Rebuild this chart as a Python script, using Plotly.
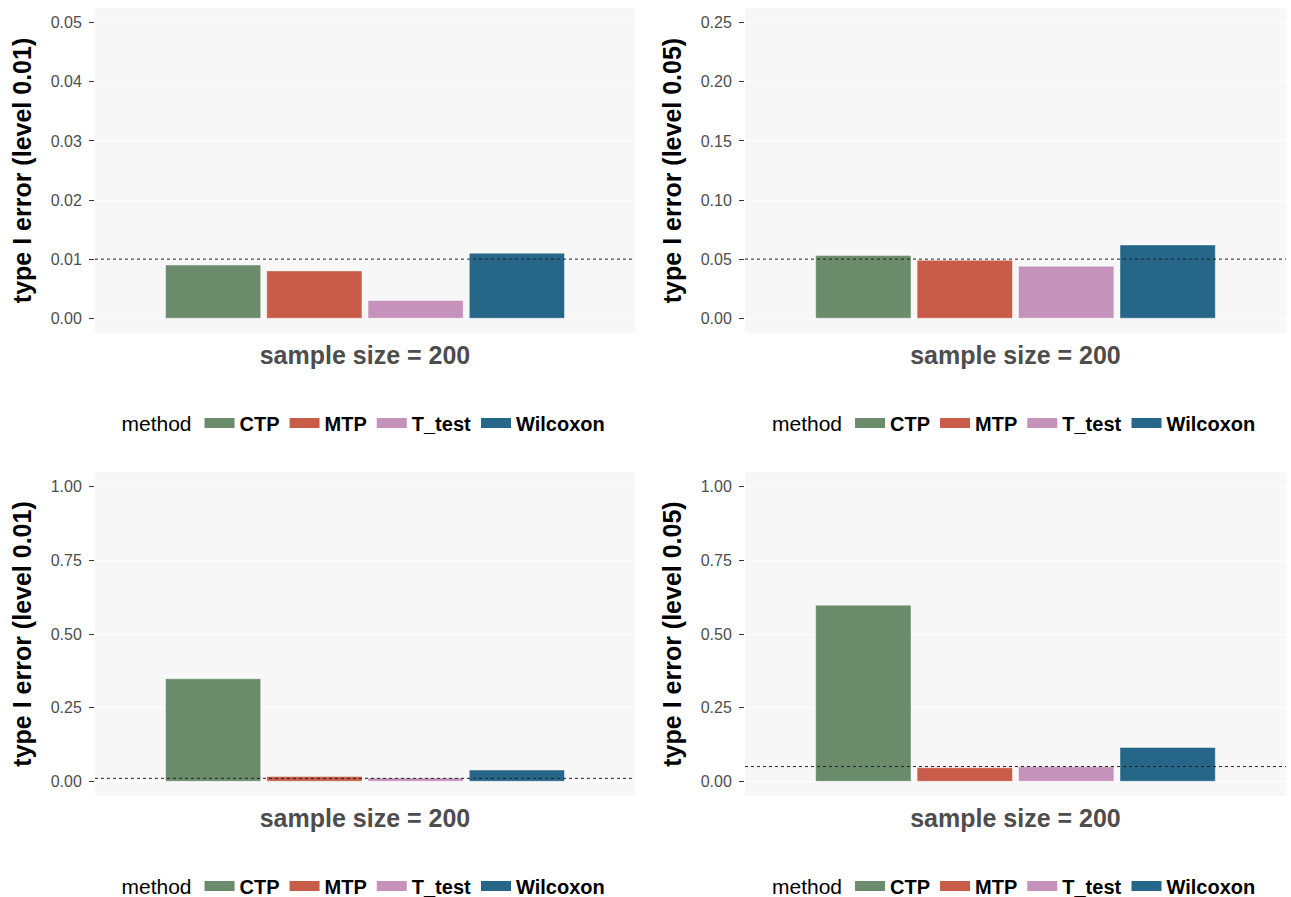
import plotly.graph_objects as go

# Methods compared and their fill colours
methods = ["CTP", "MTP", "T_test", "Wilcoxon"]
method_colors = ["#6B8C6B", "#C85C48", "#C492BA", "#266789"]

sample_size = "200"

# Estimated type I error per method (top row / bottom row scenarios)
err_top_level001 = [0.009, 0.008, 0.003, 0.011]
err_top_level005 = [0.053, 0.049, 0.044, 0.062]
err_bot_level001 = [0.348, 0.016, 0.011, 0.038]
err_bot_level005 = [0.598, 0.046, 0.049, 0.115]

# Nominal levels (dotted reference lines) and y-axis ticks per panel
levels = [0.01, 0.05, 0.01, 0.05]
ticks_top_level001 = [0.00, 0.01, 0.02, 0.03, 0.04, 0.05]
ticks_top_level005 = [0.00, 0.05, 0.10, 0.15, 0.20, 0.25]
ticks_bottom = [0.00, 0.25, 0.50, 0.75, 1.00]

panel_values = [err_top_level001, err_top_level005, err_bot_level001, err_bot_level005]
panel_ticks = [ticks_top_level001, ticks_top_level005, ticks_bottom, ticks_bottom]
y_titles = ["type I error (level 0.01)", "type I error (level 0.05)",
            "type I error (level 0.01)", "type I error (level 0.05)"]

W, H = 1291, 897
FONT = "Liberation Sans, Arial, Helvetica, sans-serif"

# Panel placement in pixels: (left, right, top, bottom)
panel_px = [(95, 635, 8, 333), (745, 1286, 8, 333),
            (95, 635, 472, 796), (745, 1286, 472, 796)]
legend_y_px = [423, 423, 886, 886]

fig = go.Figure()
layout = dict(
    width=W, height=H, autosize=False,
    margin=dict(l=0, r=0, t=0, b=0, autoexpand=False),
    paper_bgcolor="white", plot_bgcolor="#F7F7F7",
    barmode="group", bargap=0.1, bargroupgap=0.06,
    font=dict(family=FONT, color="#4D4D4D"),
    shapes=[],
)

for p in range(4):
    k = "" if p == 0 else str(p + 1)
    xa, ya = "x" + k, "y" + k
    leg = "legend" + k
    left, right, top, bottom = panel_px[p]
    ymax = max(panel_ticks[p])
    pad = ymax * 0.05

    for m, c, v in zip(methods, method_colors, panel_values[p]):
        fig.add_trace(go.Bar(
            x=[sample_size], y=[v], name=m, marker_color=c,
            marker_line=dict(width=0.8, color="rgba(255,255,255,0.55)"),
            xaxis=xa, yaxis=ya, showlegend=False, offsetgroup=m,
        ))
        # legend swatch entry
        fig.add_trace(go.Scatter(
            x=[None], y=[None], mode="lines", name=m,
            line=dict(color=c, width=14),
            xaxis=xa, yaxis=ya, legend=leg, showlegend=True,
        ))

    layout["xaxis" + k] = dict(
        domain=[left / W, right / W], anchor=ya,
        type="category", range=[-0.6, 0.6],
        showticklabels=False, ticks="", showgrid=False, zeroline=False,
        title=dict(text="sample size = " + sample_size, standoff=13,
                   font=dict(size=25, weight="bold", color="#4D4D4D", family=FONT)),
    )
    layout["yaxis" + k] = dict(
        domain=[1 - bottom / H, 1 - top / H], anchor=xa,
        range=[-pad, ymax + pad], tickvals=panel_ticks[p], tickformat=".2f",
        ticks="outside", ticklen=5, tickcolor="#333333", ticklabelstandoff=4,
        tickfont=dict(size=16, color="#4D4D4D", family=FONT),
        showgrid=True, gridcolor="white", gridwidth=1, zeroline=False,
        title=dict(text=y_titles[p], standoff=11,
                   font=dict(size=25, weight="bold", color="black", family=FONT)),
    )
    layout["shapes"].append(dict(
        type="line", xref=xa + " domain", yref=ya, x0=0, x1=1,
        y0=levels[p], y1=levels[p], layer="above",
        line=dict(color="#222222", width=1, dash="dot"),
    ))
    layout[leg] = dict(
        orientation="h", xanchor="center", yanchor="middle",
        x=(left + right) / 2 / W, y=1 - legend_y_px[p] / H,
        bgcolor="rgba(0,0,0,0)", itemwidth=30, tracegroupgap=0,
        title=dict(text="method", side="left",
                   font=dict(size=21, weight="normal", color="black", family=FONT)),
        font=dict(size=20, weight="bold", color="black", family=FONT),
    )

fig.update_layout(**layout)
fig.write_html("out.html")
